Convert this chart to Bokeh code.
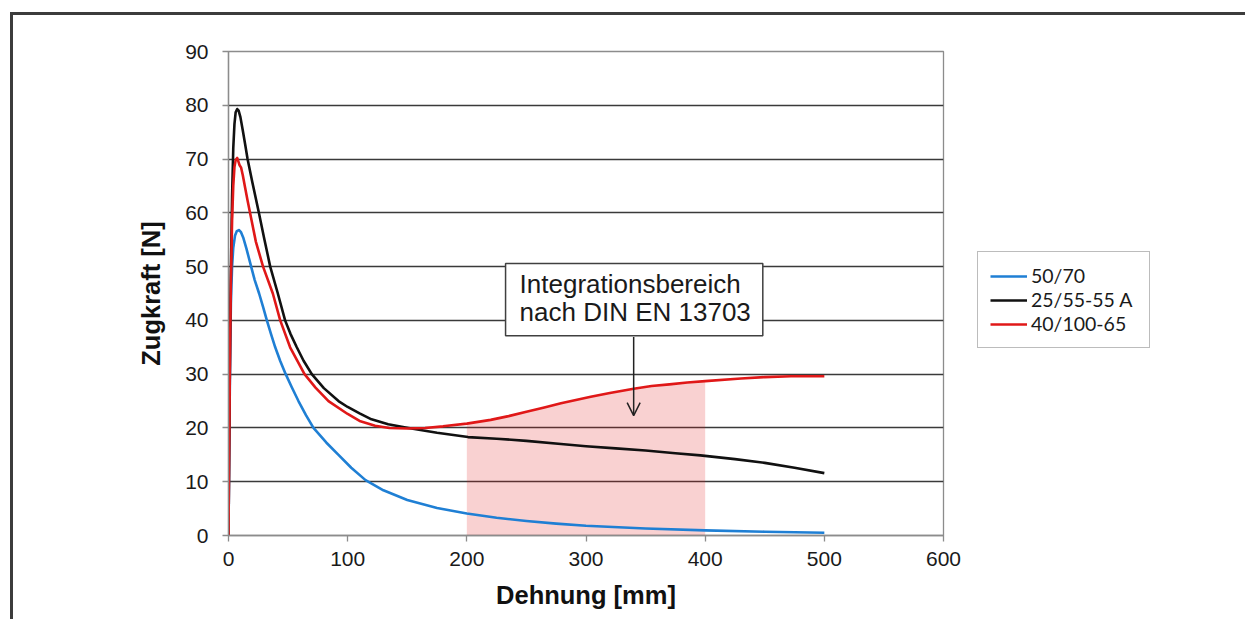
from bokeh.plotting import figure
from bokeh.models import (Range1d, FixedTicker, Legend, LegendItem, Label,
                          Arrow, OpenHead)
from bokeh.embed import file_html
from bokeh.resources import INLINE

# Force-ductility curves: Dehnung [mm] vs. Zugkraft [N]
x_5070 = [0, 0.5, 1, 1.5, 2, 3, 4, 5.5, 7, 8.7, 10.5, 12.5, 15, 19, 22, 25.7,
          29, 32.2, 35.5, 39.2, 43.5, 48, 53, 58.7, 65, 71.3, 82, 92.3, 103,
          115, 130, 150, 175, 200, 225, 250, 275, 300, 350, 400, 450, 500]
y_5070 = [0, 13, 25, 35, 43, 50, 53.5, 55.8, 56.6, 56.8, 56.4, 55.3, 53.4, 50,
          47.5, 45, 42.5, 40, 37.6, 35, 32.4, 30, 27.6, 25, 22.4, 20, 17.3,
          15.0, 12.6, 10.3, 8.4, 6.6, 5.1, 4.1, 3.3, 2.7, 2.2, 1.8, 1.3, 0.95,
          0.7, 0.5]

x_2555 = [0, 0.5, 1, 1.5, 2, 3, 4, 5, 6, 7.3, 8.5, 10, 12, 14, 16, 20, 25.5,
          30, 35, 41.4, 47.5, 52, 57.3, 63, 69.9, 80, 92.3, 100, 110, 120, 134,
          151, 175, 201, 225, 250, 279, 300, 325, 350, 375, 396, 425, 450, 475,
          500]
y_2555 = [0, 14, 28, 40, 49, 63, 72, 76.5, 78.7, 79.3, 79.0, 77.8, 75.3, 72.7,
          70, 65.7, 60, 55.2, 50, 45, 40, 37.5, 35, 32.5, 30, 27.4, 25, 23.9,
          22.7, 21.6, 20.7, 20.0, 19.1, 18.3, 18.0, 17.6, 17.0, 16.6, 16.2,
          15.8, 15.3, 14.9, 14.2, 13.5, 12.6, 11.6]

x_40100 = [0, 0.5, 1, 1.5, 2, 3, 4, 5, 6, 7.3, 8.2, 9.2, 10.6, 12, 14, 16, 19,
           23, 29, 37.2, 43.4, 51.7, 63.8, 73, 83.9, 100, 110, 123, 135, 150,
           165, 180, 200, 220, 235, 250, 265, 279, 304, 320, 340, 355, 370,
           385, 400, 430, 450, 472, 500]
y_40100 = [0, 14, 27, 38, 47, 58.5, 65, 68.5, 69.8, 70.2, 69.6, 68.9, 68.4, 67,
           64.6, 62.3, 59, 54.6, 50, 45, 40, 35, 30, 27.5, 25, 22.6, 21.3,
           20.4, 20.0, 19.9, 20.0, 20.3, 20.8, 21.5, 22.2, 23.0, 23.8, 24.6,
           25.8, 26.5, 27.3, 27.8, 28.1, 28.45, 28.7, 29.2, 29.45, 29.6, 29.6]

series_names = ["50/70", "25/55-55 A", "40/100-65"]
series_colors = ["#1f7fd4", "#111111", "#e01818"]

# integration range according to DIN EN 13703
int_from, int_to = 200, 400

x_ticks = [0, 100, 200, 300, 400, 500, 600]
y_ticks = [0, 10, 20, 30, 40, 50, 60, 70, 80, 90]

p = figure(frame_width=715, frame_height=484, output_backend="svg",
           toolbar_location=None,
           x_range=Range1d(0, 600), y_range=Range1d(0, 90),
           min_border_left=215, min_border_right=0,
           min_border_top=36, min_border_bottom=84)
p.styles = {"margin-top": "12px", "margin-left": "10px",
            "border-top": "3px solid #3c3c3c",
            "border-left": "3px solid #3c3c3c"}

p.background_fill_color = "white"
p.border_fill_color = "white"
p.outline_line_color = "#8c8c8c"
p.outline_line_width = 1.3

p.xgrid.grid_line_color = None
p.ygrid.grid_line_color = "#3a3a3a"
p.ygrid.grid_line_width = 1.4
p.ygrid.ticker = FixedTicker(ticks=y_ticks)

for ax, ticks in ((p.xaxis[0], x_ticks), (p.yaxis[0], y_ticks)):
    ax.ticker = FixedTicker(ticks=ticks)
    ax.axis_line_color = "#8c8c8c"
    ax.axis_line_width = 1.3
    ax.major_tick_line_color = "#8c8c8c"
    ax.major_tick_line_width = 1.3
    ax.major_tick_in = 0
    ax.major_tick_out = 6
    ax.minor_tick_line_color = None
    ax.major_label_text_font = "Liberation Sans"
    ax.major_label_text_font_size = "21px"
    ax.major_label_text_color = "#1a1a1a"
    ax.axis_label_text_font = "Liberation Sans"
    ax.axis_label_text_font_size = "25.5px"
    ax.axis_label_text_font_style = "bold"
    ax.axis_label_text_color = "#111111"

p.xaxis.axis_label = "Dehnung [mm]"
p.yaxis.axis_label = "Zugkraft [N]"
p.xaxis.major_label_standoff = 10
p.xaxis.axis_label_standoff = 12
p.yaxis.major_label_standoff = 14
p.yaxis.axis_label_standoff = 17

# shaded integration area under the 40/100-65 curve
shade_x = [x for x in x_40100 if int_from <= x <= int_to]
shade_y = [y for x, y in zip(x_40100, y_40100) if int_from <= x <= int_to]
p.varea(x=shade_x, y1=[0] * len(shade_x), y2=shade_y,
        fill_color="#e01818", fill_alpha=0.2)

renderers = []
for xs, ys, col in ((x_5070, y_5070, series_colors[0]),
                    (x_2555, y_2555, series_colors[1]),
                    (x_40100, y_40100, series_colors[2])):
    renderers.append(p.line(xs, ys, line_color=col, line_width=2.6,
                            line_join="round"))

legend = Legend(items=[LegendItem(label=n, renderers=[r])
                       for n, r in zip(series_names, renderers)],
                location=(34, 187))
legend.label_text_font = "Lato"
legend.label_text_font_size = "19.5px"
legend.label_text_color = "#1a1a1a"
legend.glyph_width = 37
legend.glyph_height = 20
legend.label_height = 20
legend.label_width = 106
legend.label_standoff = 4
legend.spacing = 1
legend.padding = 12
legend.margin = 0
legend.border_line_color = "#7a7a7a"
legend.border_line_width = 1.5
legend.background_fill_color = "white"
p.add_layout(legend, "right")

note = Label(x=232.5, y=50.6, text="Integrationsbereich\nnach DIN EN 13703",
             text_font="Liberation Sans", text_font_size="26px",
             text_color="#1a1a1a", text_align="left", text_baseline="top",
             text_line_height=0.91,
             padding=dict(left=14, right=12, top=6, bottom=9),
             border_line_color="#404040", border_line_width=1.5,
             background_fill_color="white")
p.add_layout(note)

p.add_layout(Arrow(x_start=340, y_start=36.9, x_end=340, y_end=22.3,
                   line_color="#222222", line_width=1.5,
                   end=OpenHead(size=13, line_width=1.5,
                                line_color="#222222")))

open("out.html", "w").write(file_html(p, INLINE))
